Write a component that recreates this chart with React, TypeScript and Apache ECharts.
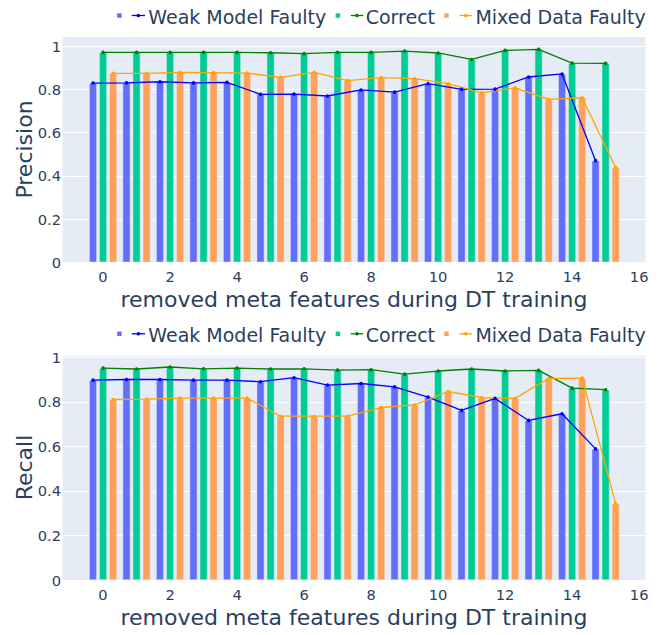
import React, { useEffect, useRef } from "react";
import * as echarts from "echarts";

// ---- data ----
const features = [0, 1, 2, 3, 4, 5, 6, 7, 8, 9, 10, 11, 12, 13, 14, 15];
const xTickValues = [0, 2, 4, 6, 8, 10, 12, 14, 16];
const yTickValues = [0, 0.2, 0.4, 0.6, 0.8, 1];

const precisionWeak = [0.829, 0.83, 0.835, 0.83, 0.832, 0.777, 0.778, 0.769, 0.797, 0.787, 0.826, 0.8, 0.801, 0.857, 0.871, 0.47];
const precisionCorrect = [0.971, 0.971, 0.971, 0.971, 0.971, 0.969, 0.965, 0.971, 0.971, 0.977, 0.968, 0.938, 0.98, 0.985, 0.921, 0.92];
const precisionMixed = [0.874, 0.874, 0.878, 0.877, 0.875, 0.855, 0.878, 0.84, 0.854, 0.849, 0.826, 0.784, 0.807, 0.753, 0.761, 0.438];

const recallWeak = [0.898, 0.901, 0.901, 0.898, 0.898, 0.891, 0.909, 0.876, 0.883, 0.868, 0.822, 0.762, 0.816, 0.717, 0.747, 0.589];
const recallCorrect = [0.952, 0.948, 0.957, 0.949, 0.952, 0.948, 0.949, 0.943, 0.945, 0.925, 0.939, 0.948, 0.939, 0.942, 0.862, 0.855];
const recallMixed = [0.811, 0.813, 0.817, 0.817, 0.817, 0.736, 0.736, 0.736, 0.775, 0.787, 0.847, 0.819, 0.816, 0.906, 0.907, 0.342];

const seriesNames = ["Weak Model Faulty", "Correct", "Mixed Data Faulty"];
const axisTitles = ["Precision", "Recall"];
const xTitle = "removed meta features during DT training";

// ---- style ----
const FONT = "DejaVu Sans";
const TEXT = "#2a3f5f";
const barColors = ["#636efa", "#00cc96", "#ffa15a"];
const lineColors = ["#0000ff", "#008000", "#ffa500"];
const offsets = [-0.3, 0, 0.3];

const GRID_LEFT = 62.5;
const GRID_RIGHT = 21.5;
const grids = [
  { top: 36.7, height: 225.6, yMax: 1.0433 },
  { top: 355, height: 225, yMax: 1.011 },
];

const legendLayout = [
  { sq: 119.4, l0: 131.7, l1: 145, tx: 148.3 },
  { sq: 337.9, l0: 350.7, l1: 363.3, tx: 365.7 },
  { sq: 446.5, l0: 459.5, l1: 472, tx: 475.4 },
];

function legendGraphics(cy: number) {
  const els: any[] = [];
  legendLayout.forEach((p, k) => {
    els.push({
      type: "rect",
      shape: { x: p.sq - 2.25, y: cy - 2.25, width: 4.5, height: 4.5 },
      style: { fill: barColors[k] },
    });
    els.push({
      type: "line",
      shape: { x1: p.l0, y1: cy, x2: p.l1, y2: cy },
      style: { stroke: lineColors[k], lineWidth: 1.3 },
    });
    els.push({
      type: "circle",
      shape: { cx: (p.l0 + p.l1) / 2, cy, r: 1.8 },
      style: { fill: lineColors[k] },
    });
    els.push({
      type: "text",
      x: p.tx,
      y: cy + 1,
      style: {
        text: seriesNames[k],
        font: `19px "${FONT}"`,
        fill: TEXT,
        verticalAlign: "middle",
        align: "left",
      },
    });
  });
  return els;
}

function yTitleGraphic(text: string, cy: number) {
  return {
    type: "text",
    x: 24,
    y: cy,
    rotation: Math.PI / 2,
    style: {
      text,
      font: `22px "${FONT}"`,
      fill: TEXT,
      align: "center",
      verticalAlign: "middle",
    },
  };
}

export default function App() {
  const ref = useRef<HTMLDivElement>(null);
  useEffect(() => {
    if (!ref.current) return;
    const chart = echarts.init(ref.current, undefined, { renderer: "svg" });
    const panels = [
      [precisionWeak, precisionCorrect, precisionMixed],
      [recallWeak, recallCorrect, recallMixed],
    ];
    const series: any[] = [];
    panels.forEach((vals, g) => {
      vals.forEach((arr, k) => {
        series.push({
          type: "bar",
          name: `bar-${g}-${k}`,
          xAxisIndex: g,
          yAxisIndex: g,
          barWidth: 7.7,
          barGap: "-100%",
          itemStyle: { color: barColors[k], borderColor: "#e5ecf6", borderWidth: 0.5 },
          data: features.map((f, i) => [f + offsets[k], arr[i]]),
          z: 2,
        });
      });
      vals.forEach((arr, k) => {
        series.push({
          type: "line",
          name: `line-${g}-${k}`,
          xAxisIndex: g,
          yAxisIndex: g,
          symbol: "circle",
          symbolSize: 3.6,
          showSymbol: true,
          lineStyle: { color: lineColors[k], width: 1.3 },
          itemStyle: { color: lineColors[k] },
          data: features.map((f, i) => [f + offsets[k], arr[i]]),
          z: 3,
        });
      });
    });

    chart.setOption({
      animation: false,
      textStyle: { fontFamily: FONT },
      grid: grids.map((g) => ({
        left: GRID_LEFT,
        right: GRID_RIGHT,
        top: g.top,
        height: g.height,
        show: true,
        backgroundColor: "#e5ecf6",
        borderWidth: 0,
      })),
      xAxis: grids.map((g, i) => ({
        type: "value",
        gridIndex: i,
        min: -1.21,
        max: 16.19,
        name: xTitle,
        nameLocation: "middle",
        nameGap: 26,
        nameTextStyle: { fontSize: 22, color: TEXT, fontFamily: FONT },
        axisLine: { show: false },
        axisTick: { show: false },
        splitLine: { show: false },
        axisLabel: {
          customValues: xTickValues,
          fontSize: 14.7,
          color: TEXT,
          fontFamily: FONT,
          margin: 7,
        },
      })),
      yAxis: grids.map((g, i) => ({
        type: "value",
        gridIndex: i,
        min: 0,
        max: g.yMax,
        interval: 0.2,
        axisLine: { show: false },
        axisTick: { show: false },
        splitLine: { show: true, lineStyle: { color: "#ffffff", width: 1 } },
        axisLabel: {
          customValues: yTickValues,
          fontSize: 14.7,
          color: TEXT,
          fontFamily: FONT,
          margin: 1.5,
        },
      })),
      series,
      graphic: [
        ...legendGraphics(15.5),
        ...legendGraphics(333.8),
        yTitleGraphic(axisTitles[0], 149.5),
        yTitleGraphic(axisTitles[1], 467.5),
      ],
    });
    return () => chart.dispose();
  }, []);
  return (
    <div
      ref={ref}
      style={{ position: "fixed", left: 0, top: 0, width: 667, height: 635, background: "#fff" }}
    />
  );
}
